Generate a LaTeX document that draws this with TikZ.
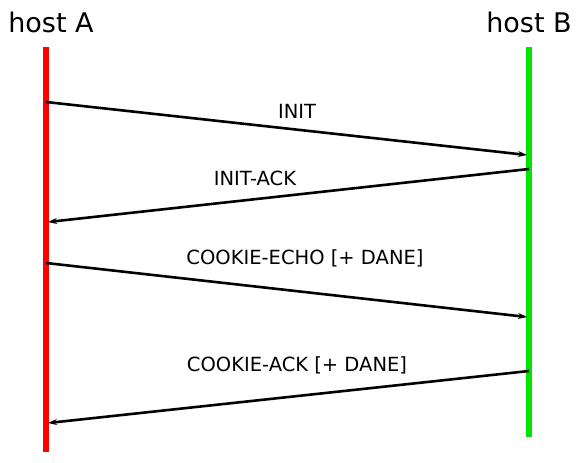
\documentclass[tikz,border=0pt]{standalone}
\usepackage{fontspec}
\setmainfont{DejaVu Sans}
\usepackage{xcolor}
\usetikzlibrary{arrows.meta, positioning}

\definecolor{hostared}{RGB}{255,0,0}
\definecolor{hostbgreen}{RGB}{0,228,0}

\begin{document}
\begin{tikzpicture}[
        x=1pt, y=1pt,
        host/.style={font=\fontsize{27}{30}\selectfont, inner sep=0pt, text=black},
        lifeline/.style={line width=6pt},
        msg/.style={-{Stealth[length=9pt, width=6pt]}, line width=2.6pt, black},
        msglbl/.style={font=\fontsize{19.5}{23}\selectfont, inner sep=0pt, text=black}
    ]
        \useasboundingbox (0,0) rectangle (576,463);

        % Hosts
        \node[host] (hosta) at (51,441) {host A};
        \node[host] (hostb) at (529,441) {host B};

        % Lifelines
        \coordinate (atop) at (46,416);
        \coordinate (abot) at (46,11);
        \coordinate (btop) at (529,416);
        \coordinate (bbot) at (529,26);
        \draw[lifeline, hostared] (atop) -- (abot);
        \draw[lifeline, hostbgreen] (btop) -- (bbot);

        % Message end points on the lifelines
        \coordinate (a1) at (46,361);
        \coordinate (b1) at (527,308);
        \coordinate (b2) at (529,294);
        \coordinate (a2) at (48,241);
        \coordinate (a3) at (46,200);
        \coordinate (b3) at (527,146);
        \coordinate (b4) at (529,92);
        \coordinate (a4) at (48,40);

        % --- Messages ---
        \draw[msg] (a1) -- (b1);
        \draw[msg] (b2) -- (a2);
        \draw[msg] (a3) -- (b3);
        \draw[msg] (b4) -- (a4);

        % Labels
        \node[msglbl] (linit) at (297,352) {INIT};
        \node[msglbl] (linitack) at (255,285) {INIT-ACK};
        \node[msglbl] (lecho) at (305,205) {COOKIE-ECHO [+ DANE]};
        \node[msglbl] (lack) at (297,98) {COOKIE-ACK [+ DANE]};
    \end{tikzpicture}
\end{document}
